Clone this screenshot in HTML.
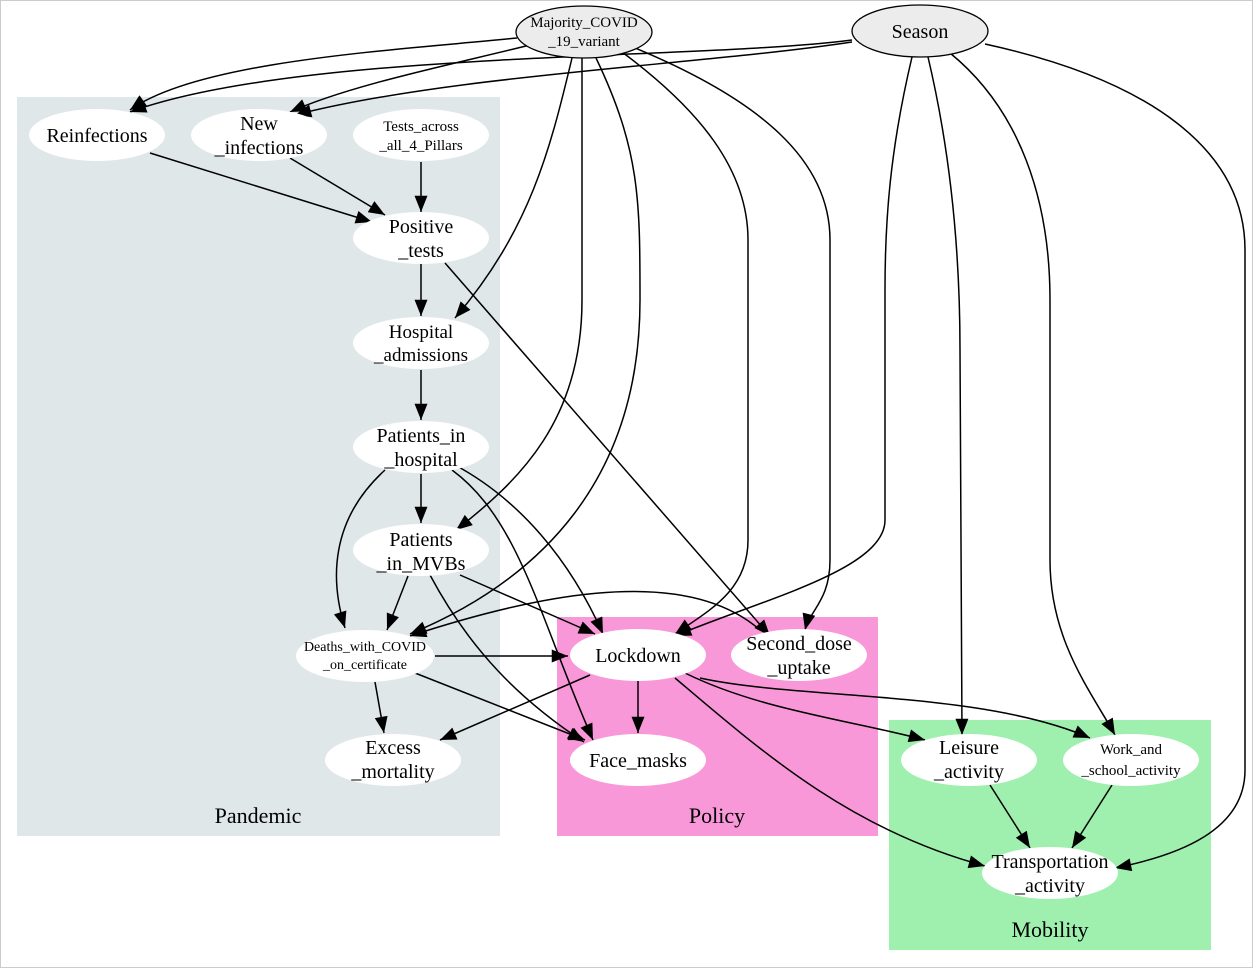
<!DOCTYPE html>
<html><head><style>
html,body{margin:0;padding:0;background:#fff}
svg{display:block}
text{font-family:"Liberation Serif",serif;fill:#000;text-anchor:middle}
</style></head><body>
<svg width="1253" height="968" viewBox="0 0 1253 968">
<defs>
<marker id="b" viewBox="0 0 10 8" refX="10" refY="4" markerWidth="18" markerHeight="13" markerUnits="userSpaceOnUse" orient="auto"><path d="M0,0L10,4L0,8z" fill="#000"/></marker></defs>
<rect x="0.5" y="0.5" width="1252" height="967" fill="#fff" stroke="#ccc"/>
<rect x="17" y="97" width="483" height="739" fill="#e0e7e9"/>
<rect x="557" y="617" width="321" height="219" fill="#f898d8"/>
<rect x="889" y="720" width="322" height="230" fill="#9ff0ae"/>
<text x="258" y="823" font-size="22">Pandemic</text>
<text x="717" y="823" font-size="22">Policy</text>
<text x="1050" y="937" font-size="22">Mobility</text>
<g fill="none" stroke="#000" stroke-width="1.5">
<path d="M517,38 C400,50 200,60 130,110" marker-end="url(#b)"/>
<path d="M852,40 C700,60 300,50 130,112" marker-end="url(#b)"/>
<path d="M530,45 C450,65 350,85 290,112" marker-end="url(#b)"/>
<path d="M852,42 C700,65 450,75 295,115" marker-end="url(#b)"/>
<path d="M150,153 L372,222" marker-end="url(#b)"/>
<path d="M290,158 L385,215" marker-end="url(#b)"/>
<path d="M421,162 L421,212" marker-end="url(#b)"/>
<path d="M421,264 L421,316" marker-end="url(#b)"/>
<path d="M421,370 L421,420" marker-end="url(#b)"/>
<path d="M421,474 L421,523" marker-end="url(#b)"/>
<path d="M572,58 C550,150 530,230 455,318" marker-end="url(#b)"/>
<path d="M582,58 L582,300 C582,420 520,480 456,530" marker-end="url(#b)"/>
<path d="M596,58 C640,150 640,200 640,300 C640,480 540,580 410,634" marker-end="url(#b)"/>
<path d="M622,52 C700,110 748,170 748,240 L748,540 C748,590 710,610 675,634" marker-end="url(#b)"/>
<path d="M635,48 C760,100 830,160 830,240 L830,560 C830,600 810,610 805,630" marker-end="url(#b)"/>
<path d="M912,57 C890,150 885,220 885,290 L885,520 C885,570 760,600 675,636" marker-end="url(#b)"/>
<path d="M928,57 C950,150 960,250 960,350 L962,735" marker-end="url(#b)"/>
<path d="M950,53 C1020,110 1050,200 1050,300 L1050,560 C1050,640 1090,690 1115,735" marker-end="url(#b)"/>
<path d="M985,44 C1150,80 1245,150 1245,250 L1245,770 C1245,830 1180,855 1115,868" marker-end="url(#b)"/>
<path d="M445,263 L770,636" marker-end="url(#b)"/>
<path d="M385,470 C330,520 330,580 345,628" marker-end="url(#b)"/>
<path d="M408,576 L387,630" marker-end="url(#b)"/>
<path d="M455,465 C520,500 570,560 603,634" marker-end="url(#b)"/>
<path d="M452,470 C520,520 540,620 593,740" marker-end="url(#b)"/>
<path d="M460,575 L595,634" marker-end="url(#b)"/>
<path d="M430,575 C470,650 520,700 584,742" marker-end="url(#b)"/>
<path d="M760,630 C680,560 520,600 410,636" marker-end="url(#b)"/>
<path d="M435,656 L568,656" marker-end="url(#b)"/>
<path d="M375,682 L384,733" marker-end="url(#b)"/>
<path d="M415,673 L585,740" marker-end="url(#b)"/>
<path d="M590,675 L440,740" marker-end="url(#b)"/>
<path d="M638,681 L638,733" marker-end="url(#b)"/>
<path d="M685,673 C760,710 850,720 925,740" marker-end="url(#b)"/>
<path d="M700,678 C800,700 980,690 1090,738" marker-end="url(#b)"/>
<path d="M675,678 C760,750 850,830 985,866" marker-end="url(#b)"/>
<path d="M990,785 L1030,848" marker-end="url(#b)"/>
<path d="M1112,785 L1072,848" marker-end="url(#b)"/>
</g>
<g stroke="#000" stroke-width="1.3" fill="#ececec">
<ellipse cx="584" cy="32" rx="68" ry="26"/>
<ellipse cx="920" cy="31" rx="68" ry="26"/>
</g>
<g fill="#fff">
<ellipse cx="97" cy="135" rx="68" ry="26"/>
<ellipse cx="259" cy="135" rx="68" ry="26"/>
<ellipse cx="421" cy="135" rx="68" ry="26"/>
<ellipse cx="421" cy="238" rx="68" ry="26"/>
<ellipse cx="421" cy="343" rx="68" ry="26"/>
<ellipse cx="421" cy="447" rx="68" ry="26"/>
<ellipse cx="421" cy="550" rx="68" ry="26"/>
<ellipse cx="365" cy="656" rx="69" ry="26"/>
<ellipse cx="393" cy="760" rx="68" ry="26"/>
<ellipse cx="638" cy="655" rx="68" ry="26"/>
<ellipse cx="799" cy="655" rx="68" ry="26"/>
<ellipse cx="638" cy="760" rx="68" ry="26"/>
<ellipse cx="969" cy="760" rx="68" ry="26"/>
<ellipse cx="1131" cy="760" rx="68" ry="26"/>
<ellipse cx="1050" cy="873" rx="68" ry="26"/>
</g>
<g font-size="20">
<text x="584" y="27" font-size="15">Majority_COVID</text><text x="584" y="46" font-size="15">_19_variant</text>
<text x="920" y="38">Season</text>
<text x="97" y="142">Reinfections</text>
<text x="259" y="130">New</text><text x="259" y="154">_infections</text>
<text x="421" y="131" font-size="15">Tests_across</text><text x="421" y="150" font-size="15">_all_4_Pillars</text>
<text x="421" y="233">Positive</text><text x="421" y="257">_tests</text>
<text x="421" y="338" font-size="19">Hospital</text><text x="421" y="361" font-size="19">_admissions</text>
<text x="421" y="442">Patients_in</text><text x="421" y="466">_hospital</text>
<text x="421" y="546">Patients</text><text x="421" y="570">_in_MVBs</text>
<text x="365" y="651" font-size="14">Deaths_with_COVID</text><text x="365" y="669" font-size="14">_on_certificate</text>
<text x="393" y="754">Excess</text><text x="393" y="778">_mortality</text>
<text x="638" y="662">Lockdown</text>
<text x="799" y="650">Second_dose</text><text x="799" y="674">_uptake</text>
<text x="638" y="767">Face_masks</text>
<text x="969" y="754">Leisure</text><text x="969" y="778">_activity</text>
<text x="1131" y="754" font-size="15">Work_and</text><text x="1131" y="775" font-size="15">_school_activity</text>
<text x="1050" y="868">Transportation</text><text x="1050" y="892">_activity</text>
</g>
</svg>
</body></html>
